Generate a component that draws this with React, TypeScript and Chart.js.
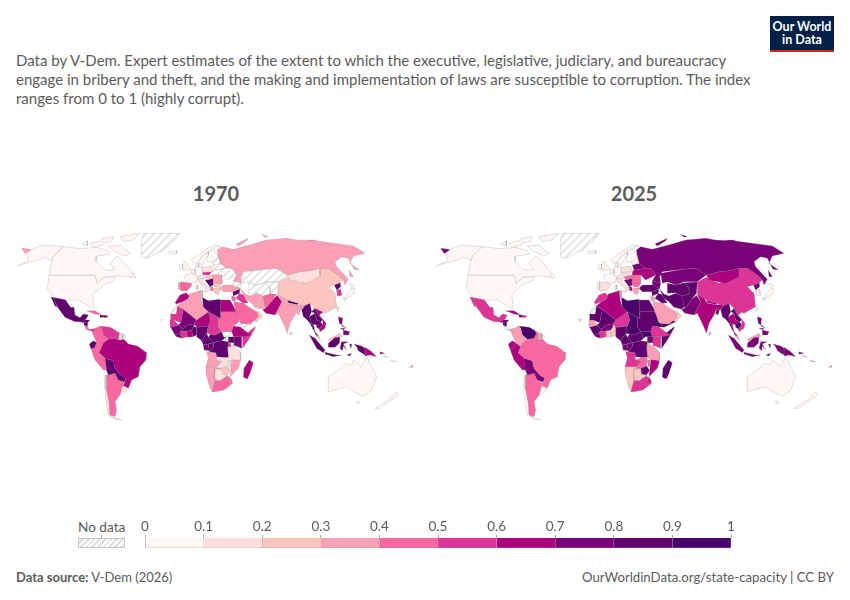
import { useEffect, useRef } from 'react';
import { Chart, registerables } from 'chart.js';

Chart.register(...registerables);

const FONT = 'Lato, sans-serif';
const TEXT = '#5b5b5b';

const years = ['1970', '2025'];
const legendTicks = [0, 0.1, 0.2, 0.3, 0.4, 0.5, 0.6, 0.7, 0.8, 0.9, 1];
const binColors = ['#fff7f3', '#fde0dd', '#fcc5c0', '#fa9fb5', '#f768a1', '#dd3497', '#ae017e', '#7a0177', '#5f006e', '#49006a'];

// country outlines, flat x,y lists in map units (1275 x 630)
const outlines: Record<string, number[][]> = {
  Alaska: [[78,100,100,85,130,75,190,80,160,108,155,122,135,112,115,120,85,128,52,138,85,122,85,112]],
  Canada: [
    [190,80,240,86,290,82,325,92,330,103,290,108,288,125,315,150,345,150,330,130,350,108,372,128,395,155,397,170,345,168,310,172,292,190,285,165,147,165,155,125,160,108],
    [325,78,360,75,390,100,375,108,345,95],
    [360,50,420,40,400,60,370,65],
    [270,70,300,62,310,75,280,82],
    [245,72,262,62,262,78],
    [305,55,340,50,335,65,310,68],
    [385,165,402,160,408,172,392,175],
  ],
  USA: [[147,165,285,165,292,190,310,172,345,170,340,183,310,195,278,225,283,262,270,262,235,240,200,240,160,232,142,205]],
  Greenland: [[430,40,540,40,525,60,490,90,440,115,425,110,425,60]],
  Iceland: [[505,95,530,92,530,100,510,102]],
  Mexico: [[160,232,195,238,212,262,222,262,225,285,240,293,250,282,265,285,258,298,245,305,225,305,195,292,175,265,165,245],[153,232,160,232,172,262,165,258]],
  Guatemala: [[240,296,250,298,248,308,238,304]],
  Honduras: [[248,300,270,300,262,308,250,308]],
  Nicaragua: [[252,308,264,306,262,320,254,316]],
  CostaRica: [[254,318,264,322,270,332,258,328]],
  Panama: [[268,328,285,326,280,336,272,332]],
  Cuba: [[260,272,285,272,305,285,285,282]],
  Haiti: [[300,285,310,285,310,292,302,292]],
  Dominican: [[310,285,325,288,318,293,310,292]],
  Colombia: [[275,330,300,318,305,325,310,345,325,358,310,368,305,380,290,368,280,345]],
  Venezuela: [[300,318,330,322,345,330,352,340,345,355,325,358,310,345,305,325]],
  Guyana: [[345,330,358,338,355,360,345,355,352,340]],
  Suriname: [[358,340,368,340,368,358,355,360]],
  FrenchGuiana: [[368,342,378,348,372,358,368,358]],
  Ecuador: [[268,372,280,362,290,368,282,385,272,385]],
  Peru: [[272,385,282,385,290,368,305,380,297,398,315,415,320,450,310,450,285,420]],
  Brazil: [[325,358,345,355,355,360,372,358,385,372,412,378,440,398,438,420,420,440,415,470,395,480,385,505,370,497,378,475,365,468,345,445,340,422,315,415,297,398,305,380,310,368]],
  Bolivia: [[315,415,340,422,345,445,365,468,345,460,325,465,315,440]],
  Paraguay: [[345,460,365,465,378,475,372,487,355,480]],
  Uruguay: [[365,500,382,508,375,518,365,512]],
  Argentina: [[320,465,345,460,355,480,372,490,365,510,360,525,345,545,350,570,345,590,330,585,328,550,318,500]],
  Chile: [[315,465,320,465,318,500,328,550,332,590,365,600,345,598,325,585,318,540,313,495]],

  UK: [[548,125,558,125,572,148,550,152,558,140]],
  Ireland: [[538,135,548,132,548,148,538,150]],
  France: [[555,165,575,160,592,170,590,188,565,188,555,178]],
  Spain: [[542,185,565,188,577,192,562,212,542,212]],
  Portugal: [[535,188,542,188,542,208,535,208]],
  Benelux: [[572,150,585,148,585,160,575,160]],
  Germany: [[585,142,605,142,607,165,590,170,585,160]],
  Denmark: [[588,130,596,130,596,140,588,140]],
  Norway: [[575,120,600,100,640,75,660,78,640,85,610,105,595,125,580,130]],
  Sweden: [[595,125,610,105,625,95,625,105,612,125,605,140]],
  Finland: [[625,95,640,85,655,110,640,125,622,125]],
  Poland: [[605,142,635,138,640,155,610,157]],
  Czechoslovakia: [[607,157,635,155,628,165,610,165]],
  Austria: [[590,170,610,165,615,172,592,175]],
  Hungary: [[615,170,636,165,640,175,620,180]],
  Romania: [[636,165,665,165,665,190,640,188,640,175]],
  Bulgaria: [[640,188,665,190,660,200,642,200]],
  Yugoslavia: [[615,180,620,180,640,175,640,195,630,200]],
  Albania: [[630,200,638,200,640,212,633,212]],
  Greece: [[640,205,662,203,655,225,645,220]],
  Italy: [[592,175,612,175,608,185,635,210,625,212,595,185],[610,212,622,212,618,220],[588,195,594,195,594,208,588,208]],
  Baltics: [[635,115,655,110,660,130,640,135]],
  Belarus: [[640,135,660,130,680,145,645,150]],
  Ukraine: [[640,155,645,150,680,145,695,145,710,165,680,180,665,165,640,165]],
  Caucasus: [[700,182,725,190,722,205,700,197]],
  Russia: [
    [652,90,665,80,700,88,760,72,800,60,860,55,890,60,950,63,1000,70,1060,78,1095,100,1060,108,1050,130,1078,150,1062,148,1045,115,1025,110,1005,125,1010,140,1045,178,1035,195,1030,180,1015,165,985,145,960,145,930,152,900,155,862,165,830,145,790,148,730,155,722,170,725,190,700,182,710,165,695,145,680,145,660,130,655,110],
    [708,72,745,55,740,62,715,78],
    [1048,150,1060,170,1050,170],
    [65,85,90,88,90,97,75,100],
    [785,43,805,50,795,52],
    [920,60,950,60,935,66],
  ],
  Kazakhstan: [[725,160,790,148,830,145,862,165,835,185,795,185,770,195,745,185,730,190]],
  Turkmenistan: [[745,190,770,195,795,188,810,205,810,222,788,228,770,218,745,220]],
  Kyrgyzstan: [[795,188,835,186,832,222,810,222,810,205]],
  Mongolia: [[862,165,900,155,930,152,960,145,960,170,920,190,870,180]],
  China: [[835,186,862,172,900,190,950,172,960,145,985,145,1015,165,1030,180,1020,188,1003,195,985,200,1005,220,1010,260,975,280,945,265,930,250,912,258,895,250,862,240,835,225]],
  NorthKorea: [[1003,195,1020,188,1022,200,1010,210]],
  SouthKorea: [[1010,210,1022,208,1026,226,1012,228]],
  Japan: [[1030,235,1055,205,1065,205,1060,222,1040,235],[1050,190,1065,195,1055,205],[1030,235,1040,235,1035,245]],
  Taiwan: [[1010,262,1018,262,1012,275]],
  Turkey: [[660,205,670,195,700,195,722,205,700,215,670,215]],
  Syria: [[698,215,720,207,718,220,700,228]],
  Iraq: [[718,220,730,225,735,235,745,248,730,250,708,235]],
  Jordan: [[695,228,700,228,708,235,705,245,695,240]],
  SaudiArabia: [[702,245,730,250,745,260,770,275,775,290,750,312,722,310,705,270]],
  Yemen: [[722,310,750,312,762,302,770,305,735,322]],
  Oman: [[778,278,788,288,770,305,762,302,772,290]],
  UAE: [[765,275,778,275,772,287]],
  Iran: [[722,208,735,222,750,228,770,220,790,228,795,262,788,268,765,262,750,245,735,235,730,225]],
  Afghanistan: [[788,228,810,222,830,222,818,240,800,262,795,262]],
  Pakistan: [[800,262,818,240,832,226,845,245,835,265,825,285,798,280,788,270]],
  India: [[835,225,855,228,858,240,865,250,895,255,915,250,912,262,900,272,893,265,885,285,870,310,862,340,852,315,835,280,825,285,835,265,845,245]],
  Nepal: [[862,240,895,250,892,254,865,248]],
  Bangladesh: [[893,265,900,272,898,284,890,282]],
  SriLanka: [[870,335,878,340,872,345]],
  Myanmar: [[915,255,930,250,935,275,928,290,935,310,940,330,930,310,920,298,910,290,905,270]],
  Thailand: [[928,290,945,280,950,300,962,305,950,315,940,312,945,335,955,348,948,345,938,325,935,310]],
  Laos: [[935,275,945,265,955,285,968,300,962,305,950,300,945,280]],
  Vietnam: [[945,265,970,275,958,285,978,310,975,325,960,335,958,328,968,315,968,300,955,285]],
  Cambodia: [[950,305,962,305,968,315,958,328,948,320]],
  Malaysia: [[945,335,955,345,962,360,950,350],[985,358,1005,348,1020,340,1025,350,1005,352,990,365]],
  Indonesia: [
    [928,345,945,355,975,390,970,398,950,385],
    [975,397,1010,405,1025,405,1000,410,975,402],
    [985,370,1005,352,1020,352,1018,370,1005,382,985,382],
    [1020,385,1025,365,1045,365,1030,372,1040,390,1030,378,1028,392],
    [1062,372,1085,378,1095,385,1095,405,1075,392,1070,380],
    [1040,405,1055,400,1050,408],
    [1048,372,1055,372,1053,385],
  ],
  PapuaNewGuinea: [[1095,382,1115,395,1130,410,1110,405,1095,408],[1140,395,1155,400,1142,402]],
  Philippines: [[1015,290,1028,295,1025,318,1040,325,1018,310],[1030,330,1050,335,1045,345,1030,345],[1020,325,1035,325,1030,330]],

  Morocco: [[558,218,568,228,562,237,547,245,530,252,525,248,540,225]],
  WesternSahara: [[515,275,530,252,532,258,528,282,512,282]],
  Algeria: [[568,222,600,212,603,238,610,262,625,275,590,300,550,268,532,258,547,245,562,237]],
  Tunisia: [[600,210,607,212,607,232,603,238]],
  Libya: [[607,232,625,242,660,238,662,295,655,292,625,275,610,262]],
  Egypt: [[660,240,690,240,710,275,662,275]],
  Sudan: [[662,275,710,275,718,305,700,318,695,335,665,335,655,320,655,292,662,295]],
  SouthSudan: [[665,335,695,335,700,350,685,350,680,350,672,352]],
  Eritrea: [[710,297,718,305,735,322,720,320,700,318]],
  Mauritania: [[512,282,528,282,532,258,550,268,542,308,522,300,510,300]],
  Mali: [[550,268,590,300,582,312,560,315,548,328,535,315,542,308]],
  Niger: [[590,300,625,275,632,300,625,318,590,322,582,312]],
  Chad: [[625,275,655,292,655,320,665,335,645,345,620,340,625,318,632,300]],
  Senegal: [[510,300,522,300,535,315,512,322]],
  Guinea: [[512,322,535,315,548,328,540,335,540,340,525,345]],
  Liberia: [[525,345,540,340,545,355,530,350]],
  CoteDIvoire: [[540,335,560,333,562,350,545,355,540,340]],
  Burkina: [[548,328,560,315,582,312,582,320,575,330,560,333,540,335]],
  Ghana: [[560,333,575,330,578,350,562,352]],
  Benin: [[575,330,582,320,590,322,590,345,578,350]],
  Nigeria: [[590,322,625,318,620,340,605,362,590,350]],
  Cameroon: [[620,340,625,352,640,368,610,375,605,362]],
  CAR: [[625,352,632,342,645,345,665,335,672,352,680,350,665,362,640,368]],
  Gabon: [[610,375,625,372,628,392,612,390]],
  Congo: [[625,372,640,368,640,380,628,395]],
  DRC: [[640,368,665,362,685,365,683,385,685,412,668,412,650,410,648,398,628,395,640,380]],
  Uganda: [[685,350,702,350,702,368,685,368]],
  Kenya: [[702,350,725,350,725,385,700,375]],
  Rwanda: [[684,370,692,370,692,380,684,380]],
  Tanzania: [[692,378,700,375,720,395,722,420,700,420,685,412,684,382]],
  Ethiopia: [[700,318,720,320,745,340,755,345,728,350,700,350,695,335]],
  Somalia: [[728,350,765,320,765,325,745,360,728,385]],
  Angola: [[620,395,648,398,650,420,665,425,650,440,618,440,625,415]],
  Zambia: [[650,420,668,412,685,415,683,435,665,445,652,445]],
  Malawi: [[685,420,692,420,693,440,688,440]],
  Mozambique: [[695,418,722,422,715,445,690,470,695,490,688,485,692,455]],
  Zimbabwe: [[665,445,683,437,692,452,682,465,668,462]],
  Botswana: [[645,447,665,447,682,467,660,482,645,475]],
  Namibia: [[618,440,650,442,665,447,645,447,645,480,635,510,630,505,618,460]],
  SouthAfrica: [[635,515,645,480,660,482,682,467,695,478,698,490,672,510,645,515]],
  Madagascar: [[748,420,760,428,750,460,742,477,730,472,732,445]],
  CapeVerde: [[480,298,488,298,484,305]],

  Australia: [[985,470,1015,450,1035,430,1055,435,1060,420,1085,440,1100,410,1115,440,1130,470,1115,510,1090,530,1060,515,1040,500,985,515],[1068,545,1080,545,1075,553]],
  NewZealand: [[1125,565,1165,540,1190,515,1195,525,1140,565]],
  Fiji: [[1228,442,1238,436,1238,442]],
  Solomon: [[1150,405,1165,412,1155,410],[1172,420,1190,425,1178,426]],
};

const values1970: Record<string, number | null> = {
  Alaska: 0.05, Canada: 0.05, USA: 0.05, Greenland: null, Iceland: 0.05, Mexico: 0.85, Guatemala: 0.85, Honduras: 0.85, Nicaragua: 0.85,
  CostaRica: 0.45, Panama: 0.55, Cuba: 0.45, Haiti: 0.85, Dominican: 0.75, Colombia: 0.45, Venezuela: 0.55, Guyana: 0.55, Suriname: 0.15,
  FrenchGuiana: null, Ecuador: 0.85, Peru: 0.45, Brazil: 0.65, Bolivia: 0.85, Paraguay: 0.85, Uruguay: 0.15, Argentina: 0.45, Chile: 0.15,
  UK: 0.05, Ireland: 0.05, France: 0.05, Spain: 0.45, Portugal: 0.35, Benelux: 0.05, Germany: 0.05, Denmark: 0.05, Norway: 0.05, Sweden: 0.05,
  Finland: 0.05, Poland: 0.15, Czechoslovakia: 0.55, Austria: 0.05, Hungary: 0.25, Romania: 0.35, Bulgaria: 0.25, Yugoslavia: 0.85, Albania: 0.45,
  Greece: 0.25, Italy: 0.15, Baltics: null, Belarus: null, Ukraine: null, Caucasus: null, Russia: 0.35, Kazakhstan: null, Turkmenistan: null,
  Kyrgyzstan: null, Mongolia: 0.15, China: 0.25, NorthKorea: 0.85, SouthKorea: 0.55, Japan: 0.05, Taiwan: 0.25, Turkey: 0.35, Syria: 0.85,
  Iraq: 0.55, Jordan: 0.45, SaudiArabia: 0.45, Yemen: null, Oman: 0.25, UAE: 0.25, Iran: 0.35, Afghanistan: 0.45, Pakistan: 0.65, India: 0.35,
  Nepal: 0.85, Bangladesh: 0.35, SriLanka: 0.25, Myanmar: 0.85, Thailand: 0.85, Laos: 0.85, Vietnam: 0.65, Cambodia: 0.75, Malaysia: 0.25,
  Indonesia: 0.8, PapuaNewGuinea: 0.65, Philippines: 0.75, Morocco: 0.65, WesternSahara: null, Algeria: 0.35, Tunisia: 0.25, Libya: 0.85,
  Egypt: 0.65, Sudan: 0.45, SouthSudan: null, Eritrea: null, Mauritania: 0.55, Mali: 0.75, Niger: 0.65, Chad: 0.55, Senegal: 0.55, Guinea: 0.75,
  Liberia: 0.75, CoteDIvoire: 0.55, Burkina: 0.85, Ghana: 0.65, Benin: 0.85, Nigeria: 0.85, Cameroon: 0.85, CAR: 0.85, Gabon: 0.75, Congo: 0.85,
  DRC: 0.8, Uganda: 0.85, Kenya: 0.75, Rwanda: 0.55, Tanzania: 0.15, Ethiopia: 0.65, Somalia: 0.55, Angola: 0.35, Zambia: 0.15, Malawi: 0.15,
  Mozambique: 0.35, Zimbabwe: 0.25, Botswana: 0.15, Namibia: 0.35, SouthAfrica: 0.45, Madagascar: 0.65, CapeVerde: null, Australia: 0.05, NewZealand: 0.05,
  Fiji: 0.35, Solomon: 0.05,
};

const values2025: Record<string, number | null> = {
  Alaska: 0.05, Canada: 0.05, USA: 0.05, Greenland: null, Iceland: 0.05, Mexico: 0.55, Guatemala: 0.75, Honduras: 0.75, Nicaragua: 0.85,
  CostaRica: 0.05, Panama: 0.35, Cuba: 0.65, Haiti: 0.75, Dominican: 0.55, Colombia: 0.35, Venezuela: 0.95, Guyana: 0.45, Suriname: 0.35,
  FrenchGuiana: null, Ecuador: 0.65, Peru: 0.65, Brazil: 0.45, Bolivia: 0.75, Paraguay: 0.75, Uruguay: 0.05, Argentina: 0.45, Chile: 0.05,
  UK: 0.05, Ireland: 0.05, France: 0.05, Spain: 0.15, Portugal: 0.05, Benelux: 0.05, Germany: 0.05, Denmark: 0.05, Norway: 0.05, Sweden: 0.05,
  Finland: 0.05, Poland: 0.15, Czechoslovakia: 0.15, Austria: 0.05, Hungary: 0.45, Romania: 0.45, Bulgaria: 0.45, Yugoslavia: 0.75, Albania: 0.65,
  Greece: 0.35, Italy: 0.15, Baltics: 0.05, Belarus: 0.75, Ukraine: 0.65, Caucasus: 0.75, Russia: 0.75, Kazakhstan: 0.75, Turkmenistan: 0.85,
  Kyrgyzstan: 0.85, Mongolia: 0.65, China: 0.55, NorthKorea: 0.85, SouthKorea: 0.15, Japan: 0.05, Taiwan: 0.05, Turkey: 0.85, Syria: 0.85,
  Iraq: 0.85, Jordan: 0.35, SaudiArabia: 0.35, Yemen: 0.95, Oman: 0.25, UAE: 0.15, Iran: 0.85, Afghanistan: 0.85, Pakistan: 0.75, India: 0.65,
  Nepal: 0.6, Bangladesh: 0.8, SriLanka: 0.35, Myanmar: 0.85, Thailand: 0.65, Laos: 0.85, Vietnam: 0.55, Cambodia: 0.95, Malaysia: 0.35,
  Indonesia: 0.75, PapuaNewGuinea: 0.75, Philippines: 0.75, Morocco: 0.55, WesternSahara: null, Algeria: 0.65, Tunisia: 0.35, Libya: 0.95,
  Egypt: 0.8, Sudan: 0.85, SouthSudan: 0.9, Eritrea: 0.9, Mauritania: 0.85, Mali: 0.85, Niger: 0.55, Chad: 0.95, Senegal: 0.35, Guinea: 0.85,
  Liberia: 0.75, CoteDIvoire: 0.55, Burkina: 0.75, Ghana: 0.25, Benin: 0.25, Nigeria: 0.85, Cameroon: 0.85, CAR: 0.85, Gabon: 0.75, Congo: 0.85,
  DRC: 0.85, Uganda: 0.75, Kenya: 0.55, Rwanda: 0.25, Tanzania: 0.35, Ethiopia: 0.55, Somalia: 0.85, Angola: 0.55, Zambia: 0.45, Malawi: 0.45,
  Mozambique: 0.65, Zimbabwe: 0.85, Botswana: 0.25, Namibia: 0.25, SouthAfrica: 0.55, Madagascar: 0.85, CapeVerde: 0.25, Australia: 0.05, NewZealand: 0.05,
  Fiji: 0.3, Solomon: 0.35,
};

function binColor(value: number) {
  return binColors[Math.min(9, Math.floor(value * 10))];
}

function makeHatch() {
  const c = document.createElement('canvas');
  c.width = 8;
  c.height = 8;
  const ctx = c.getContext('2d')!;
  ctx.fillStyle = '#ffffff';
  ctx.fillRect(0, 0, 8, 8);
  ctx.strokeStyle = '#e2e2e2';
  ctx.lineWidth = 1.6;
  ctx.beginPath();
  ctx.moveTo(-2, 2);
  ctx.lineTo(2, -2);
  ctx.moveTo(-2, 10);
  ctx.lineTo(10, -2);
  ctx.moveTo(6, 10);
  ctx.lineTo(10, 6);
  ctx.stroke();
  return ctx.createPattern(c, 'repeat')!;
}

function MapChart({ values, left }: { values: Record<string, number | null>; left: number }) {
  const canvasRef = useRef<HTMLCanvasElement>(null);

  useEffect(() => {
    if (!canvasRef.current) return;
    const hatch = makeHatch();

    const datasets = Object.keys(outlines).flatMap((name) =>
      outlines[name].map((ring) => {
        const points = [];
        for (let i = 0; i < ring.length; i += 2) points.push({ x: ring[i], y: ring[i + 1] });
        points.push({ x: ring[0], y: ring[1] });
        const v = values[name];
        return {
          label: name,
          data: points,
          showLine: true,
          fill: 'shape',
          backgroundColor: v === null ? hatch : binColor(v),
          borderColor: 'rgba(120,120,120,0.45)',
          borderWidth: 0.5,
          pointRadius: 0,
          tension: 0,
          clip: false,
        };
      })
    );

    const chart = new Chart(canvasRef.current, {
      type: 'scatter',
      data: { datasets: datasets as any },
      options: {
        animation: false,
        responsive: false,
        events: [],
        layout: { padding: 0 },
        plugins: { legend: { display: false }, tooltip: { enabled: false } },
        scales: {
          x: { type: 'linear', display: false, min: 0, max: 1275 },
          y: { type: 'linear', display: false, min: 0, max: 630, reverse: true },
        },
      },
    });

    return () => chart.destroy();
  }, [values]);

  return <canvas ref={canvasRef} width={425} height={210} style={{ position: 'absolute', left, top: 220 }} />;
}

function LegendChart() {
  const canvasRef = useRef<HTMLCanvasElement>(null);

  useEffect(() => {
    if (!canvasRef.current) return;

    const chart = new Chart(canvasRef.current, {
      type: 'bar',
      data: {
        labels: ['index'],
        datasets: binColors.map((color, i) => ({
          data: [[legendTicks[i], legendTicks[i + 1]]],
          backgroundColor: color,
          borderColor: '#a0a0a0',
          borderWidth: { left: 0.7, right: i === 9 ? 0.7 : 0, top: 0, bottom: 0.7 },
          borderSkipped: false,
          barPercentage: 1,
          categoryPercentage: 1,
          grouped: false,
        })) as any,
      },
      options: {
        indexAxis: 'y',
        animation: false,
        responsive: false,
        events: [],
        layout: { padding: { left: 25, right: 25, top: 0, bottom: 0 } },
        plugins: { legend: { display: false }, tooltip: { enabled: false } },
        scales: {
          x: {
            type: 'linear',
            position: 'top',
            min: 0,
            max: 1,
            border: { display: false },
            afterBuildTicks: (axis) => {
              axis.ticks = legendTicks.map((value) => ({ value }));
            },
            afterFit: (axis) => {
              axis.height = 24;
            },
            grid: { drawOnChartArea: false, drawTicks: true, tickLength: 3, color: '#a8a8a8', lineWidth: 1 },
            ticks: {
              autoSkip: false,
              maxRotation: 0,
              padding: 0,
              color: TEXT,
              font: { family: FONT, size: 13.5 },
              callback: (v) => String(v),
            },
          },
          y: { display: false },
        },
      },
    });

    return () => chart.destroy();
  }, []);

  return <canvas ref={canvasRef} width={636} height={34} style={{ position: 'absolute', left: 120, top: 514 }} />;
}

export default function App() {
  return (
    <div style={{ position: 'absolute', left: 0, top: 0, width: 850, height: 600, background: '#fff', overflow: 'hidden', fontFamily: FONT, color: TEXT }}>
      <div style={{ position: 'absolute', left: 16, top: 51, fontSize: 15, lineHeight: '19px', whiteSpace: 'nowrap' }}>
        Data by V-Dem. Expert estimates of the extent to which the executive, legislative, judiciary, and bureaucracy<br />
        engage in bribery and theft, and the making and implementation of laws are susceptible to corruption. The index<br />
        ranges from 0 to 1 (highly corrupt).
      </div>

      <div style={{ position: 'absolute', left: 770, top: 16, width: 64, height: 36, background: '#002147', borderBottom: '2.5px solid #ce261e', color: '#fff', fontWeight: 700, fontSize: 12.5, lineHeight: '13px', textAlign: 'center', paddingTop: 4, boxSizing: 'border-box' }}>
        Our World<br />in Data
      </div>

      <div style={{ position: 'absolute', left: 116, width: 200, top: 180, textAlign: 'center', fontWeight: 700, fontSize: 20, lineHeight: '26px' }}>{years[0]}</div>
      <div style={{ position: 'absolute', left: 534, width: 200, top: 180, textAlign: 'center', fontWeight: 700, fontSize: 20, lineHeight: '26px' }}>{years[1]}</div>

      <MapChart values={values1970} left={0} />
      <MapChart values={values2025} left={419} />

      <div style={{ position: 'absolute', left: 78, top: 519, fontSize: 13.6, lineHeight: '16px' }}>No data</div>
      <div style={{ position: 'absolute', left: 101, top: 535, width: 1, height: 3, background: '#a8a8a8' }} />
      <div style={{ position: 'absolute', left: 78, top: 538, width: 47, height: 10, boxSizing: 'border-box', border: '1px solid #c4c4c4', background: 'repeating-linear-gradient(135deg, #fff 0 2px, #dedede 2px 4px)' }} />
      <LegendChart />

      <div style={{ position: 'absolute', left: 16, top: 569, fontSize: 13, lineHeight: '16px' }}>
        <b>Data source:</b> V-Dem (2026)
      </div>
      <div style={{ position: 'absolute', right: 16, top: 569, fontSize: 13.2, lineHeight: '16px' }}>OurWorldinData.org/state-capacity | CC BY</div>
    </div>
  );
}
